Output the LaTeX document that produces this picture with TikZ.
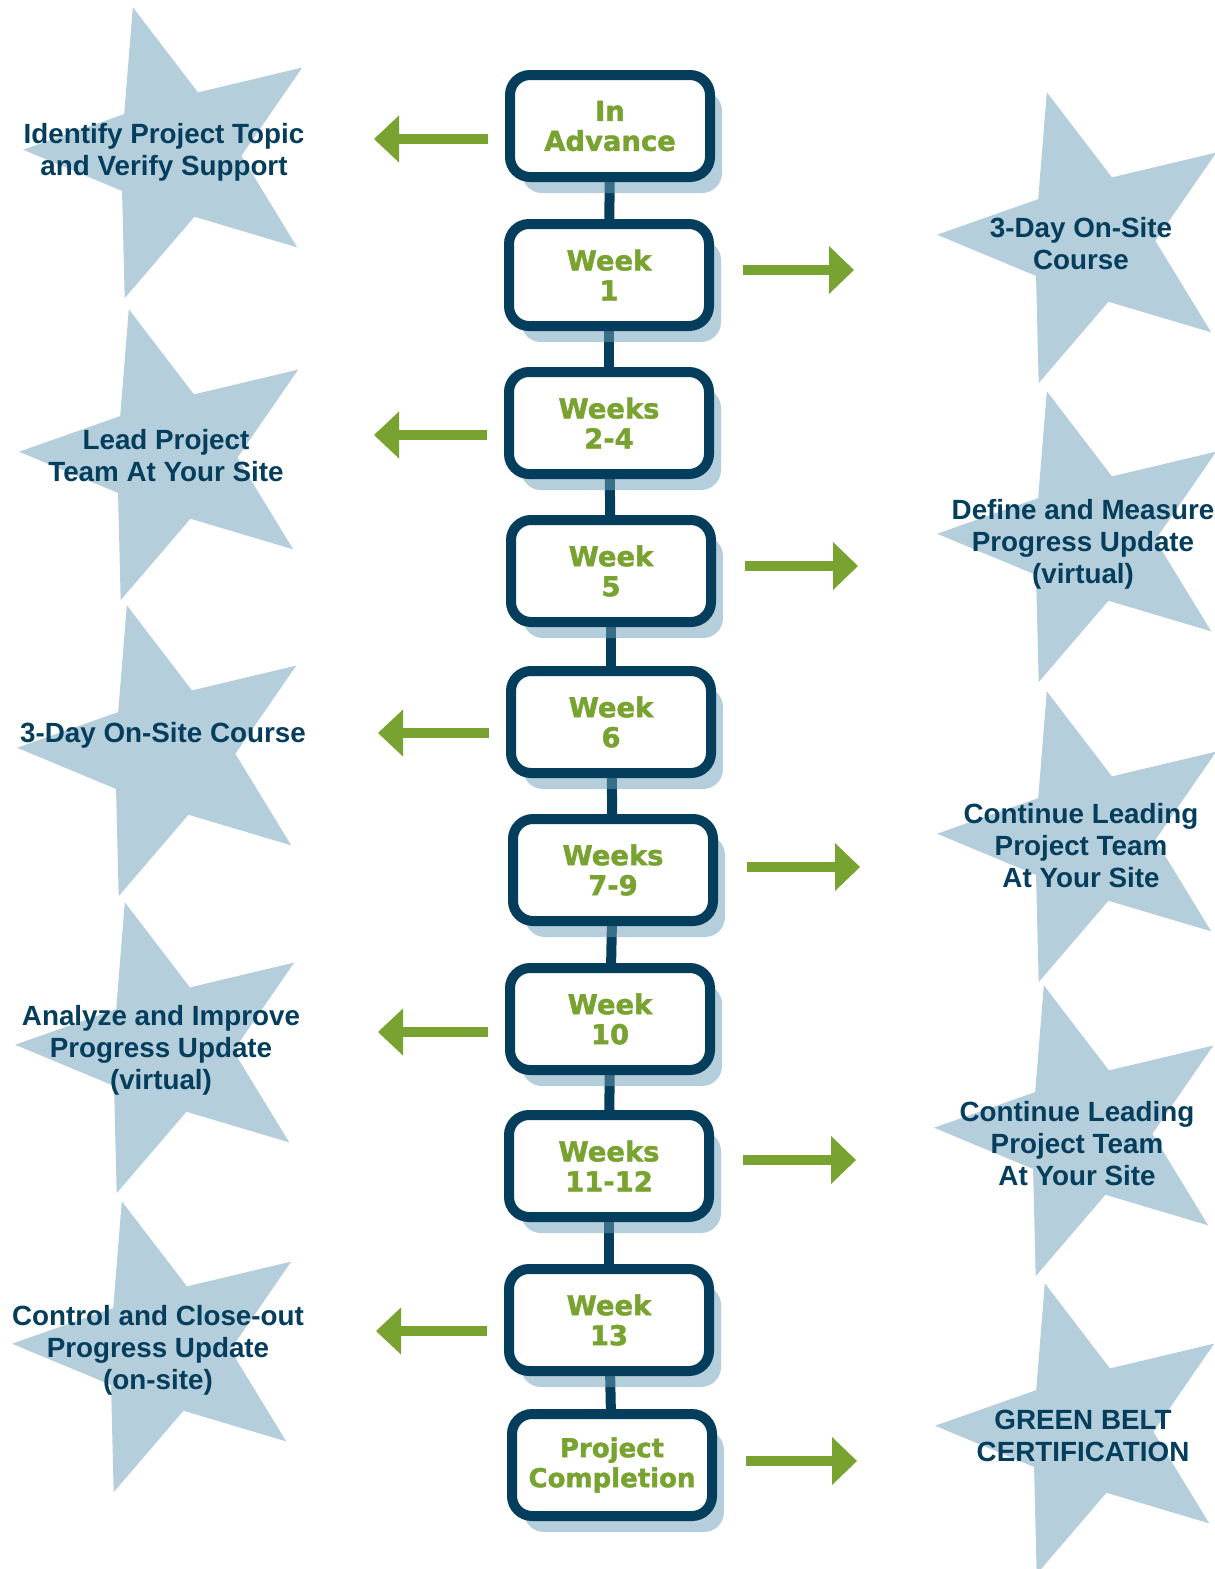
\documentclass[tikz,border=0pt]{standalone}
\usepackage{fontspec}
\usepackage{xcolor}
\usepackage{tikz}
\usetikzlibrary{shapes.geometric}
\usetikzlibrary{arrows.meta}
\usetikzlibrary{shadows}
\usetikzlibrary{backgrounds}

\newfontfamily\starfont{Liberation Sans}
\newfontfamily\boxfont{DejaVu Sans}[BoldFeatures={FakeBold=1.6}]

\definecolor{navy}{RGB}{4,62,92}
\definecolor{leaf}{RGB}{121,163,48}
\definecolor{starblue}{RGB}{181,206,219}
\definecolor{shadowblue}{RGB}{110,159,184}

\tikzset{
    weekbox/.style={draw=navy, line width=10pt, fill=white, rounded corners=20pt,
        minimum width=200pt, minimum height=102pt, inner sep=0pt, align=center,
        text=leaf, font={\boxfont\bfseries\fontsize{27.4}{30}\selectfont},
        drop shadow={shadow xshift=12pt, shadow yshift=-16pt, fill=shadowblue, opacity=0.51}},
    starshape/.style={star, star points=5, star point ratio=2.34, minimum size=306pt,
        inner sep=0pt, fill=starblue, rotate=16.4},
    startext/.style={align=center, text=navy, inner sep=0pt,
        font={\starfont\bfseries\fontsize{27.8}{32}\selectfont}},
    spine/.style={draw=navy, line width=10pt},
    toleft/.style={draw=leaf, line width=10.5pt, shorten <=17pt,
        -{Triangle[length=25pt, width=47pt, line width=0pt]}},
    toright/.style={draw=leaf, line width=10.5pt, shorten <=29pt,
        -{Triangle[length=25pt, width=48pt, line width=0pt]}}
}

\begin{document}
\begin{tikzpicture}[x=1pt, y=-1pt]
        \useasboundingbox (0, 0) rectangle (1215, 1569);

        % stars
        \node[starshape] (sA) at (176, 154) {};
        \node[starshape] (sB) at (1090, 239) {};
        \node[starshape] (sC) at (172, 456) {};
        \node[starshape] (sD) at (1090, 538) {};
        \node[starshape] (sE) at (170, 752) {};
        \node[starshape] (sF) at (1090, 838) {};
        \node[starshape] (sG) at (168, 1049) {};
        \node[starshape] (sH) at (1087, 1132) {};
        \node[starshape] (sI) at (165, 1348) {};
        \node[starshape] (sJ) at (1088, 1430) {};

        \node[startext] (tA) at (164, 152) {Identify Project Topic\\ and Verify Support};
        \node[startext] (tB) at (1081, 244) {3-Day On-Site\\Course};
        \node[startext] (tC) at (166, 456) {Lead Project\\Team At Your Site};
        \node[startext] (tD) at (1083, 544) {Define and Measure\\Progress Update\\(virtual)};
        \node[startext] (tE) at (163, 735) {3-Day On-Site Course};
        \node[startext] (tF) at (1081, 846) {Continue Leading\\Project Team\\At Your Site};
        \node[startext] (tG) at (161, 1050) {Analyze and Improve\\Progress Update\\(virtual)};
        \node[startext] (tH) at (1077, 1144) {Continue Leading\\Project Team\\At Your Site};
        \node[startext] (tI) at (158, 1350) {Control and Close-out\\Progress Update\\(on-site)};
        \node[startext] (tJ) at (1083, 1436) {GREEN BELT\\CERTIFICATION};

        % timeline
        \node[weekbox] (adv) at (610, 126) {In\\Advance};
        \node[weekbox] (wk1) at (609, 275) {Week\\1};
        \node[weekbox] (wk2) at (609, 423) {Weeks\\2-4};
        \node[weekbox] (wk5) at (611, 571) {Week\\5};
        \node[weekbox] (wk6) at (611, 722) {Week\\6};
        \node[weekbox] (wk7) at (613, 870) {Weeks\\7-9};
        \node[weekbox] (wk10) at (610, 1019) {Week\\10};
        \node[weekbox] (wk11) at (609, 1166) {Weeks\\11-12};
        \node[weekbox] (wk13) at (609, 1320) {Week\\13};
        \node[weekbox, font={\boxfont\bfseries\fontsize{26}{30}\selectfont}] (done) at (612, 1465) {Project\\Completion};

        \begin{scope}[on background layer]
            \foreach \a/\b in {adv/wk1, wk1/wk2, wk2/wk5, wk5/wk6, wk6/wk7,
                wk7/wk10, wk10/wk11, wk11/wk13, wk13/done}
                \draw[spine] (\a.center) -- (\b.center);
        \end{scope}

        % arrows
        \coordinate (pA) at (374, 139);
        \coordinate (pB) at (854, 270);
        \coordinate (pC) at (374, 435);
        \coordinate (pD) at (858, 566);
        \coordinate (pE) at (378, 733);
        \coordinate (pF) at (860, 867);
        \coordinate (pG) at (378, 1032);
        \coordinate (pH) at (856, 1160);
        \coordinate (pI) at (376, 1331);
        \coordinate (pJ) at (857, 1461);

        \draw[toleft] (pA -| adv.west) -- (pA);
        \draw[toright] (pB -| wk1.east) -- (pB);
        \draw[toleft] (pC -| wk2.west) -- (pC);
        \draw[toright] (pD -| wk5.east) -- (pD);
        \draw[toleft] (pE -| wk6.west) -- (pE);
        \draw[toright] (pF -| wk7.east) -- (pF);
        \draw[toleft] (pG -| wk10.west) -- (pG);
        \draw[toright] (pH -| wk11.east) -- (pH);
        \draw[toleft] (pI -| wk13.west) -- (pI);
        \draw[toright] (pJ -| done.east) -- (pJ);
    \end{tikzpicture}
\end{document}
